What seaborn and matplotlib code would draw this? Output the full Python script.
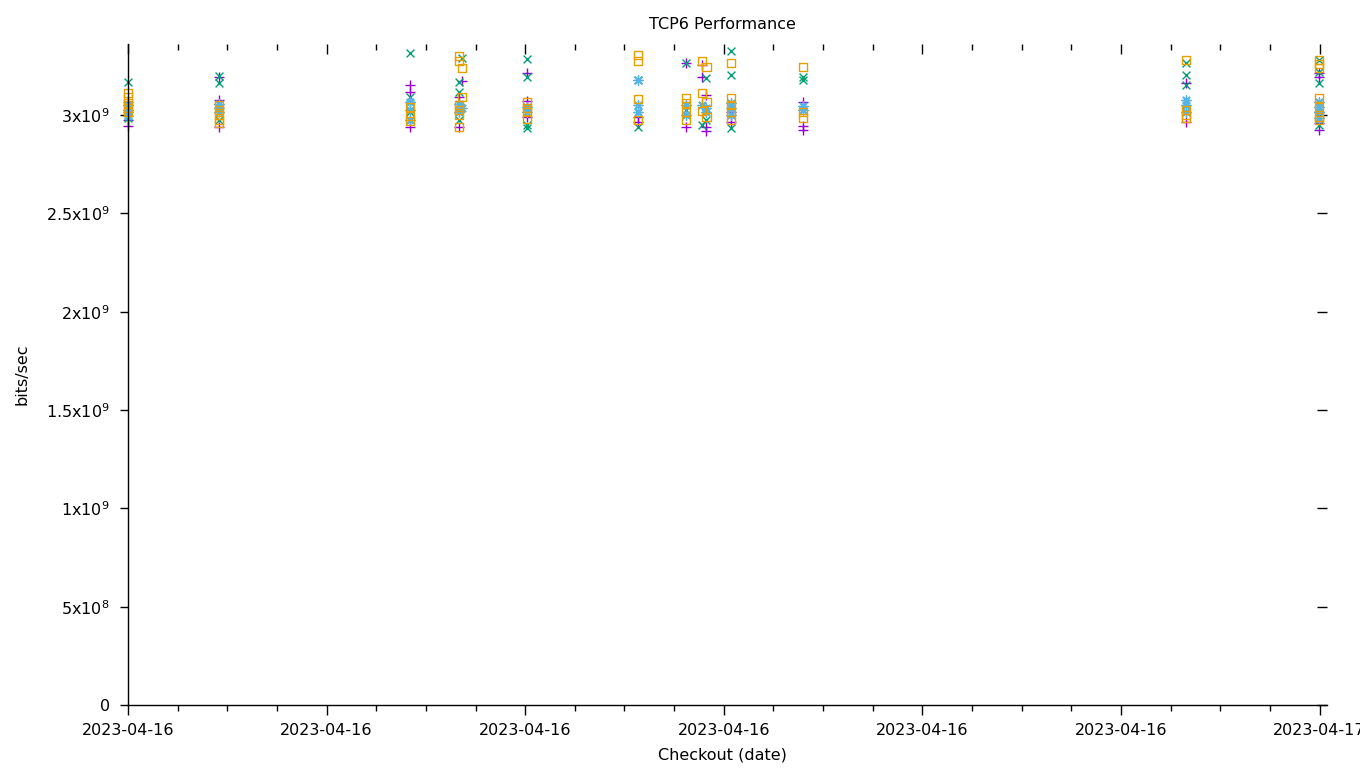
import numpy as np
import pandas as pd
import matplotlib
matplotlib.use("Agg")
import matplotlib.pyplot as plt
import matplotlib.dates as mdates
from matplotlib.markers import MarkerStyle
from matplotlib.ticker import FixedLocator, FixedFormatter, MultipleLocator
import seaborn as sns

# ---------------- data (bits/sec in units of 1e9) ----------------
DAY = "2023-04-16"

purple_times = ["00:00", "00:00", "00:00", "00:00",
                "01:50", "01:50", "01:50",
                "05:41", "05:41", "05:41",
                "06:40", "06:40", "06:44",
                "08:02", "08:02", "08:02",
                "10:16", "10:16",
                "11:14", "11:14",
                "11:34", "11:34",
                "11:39", "11:39", "11:39",
                "12:09", "12:09",
                "13:36", "13:36", "13:36",
                "21:19", "21:19",
                "23:59", "23:59", "23:59", "23:59", "23:59"]
purple_gbps = [3.066, 3.015, 2.975, 2.944,
               3.193, 3.076, 2.939,
               3.153, 3.117, 2.939,
               3.092, 2.939, 3.173,
               3.214, 3.071, 2.990,
               2.990, 2.964,
               3.264, 2.939,
               3.254, 3.193,
               3.102, 2.939, 2.919,
               3.015, 2.964,
               3.066, 2.944, 2.924,
               3.163, 2.964,
               3.214, 3.193, 3.015, 2.959, 2.924]

green_times = ["00:00", "00:00", "00:00",
               "01:50", "01:50", "01:50",
               "05:41", "05:41", "05:41",
               "06:44", "06:40", "06:40", "06:40",
               "08:02", "08:02", "08:02", "08:02",
               "10:16", "10:16",
               "11:14", "11:14",
               "11:34",
               "11:39", "11:39",
               "12:09", "12:09", "12:09",
               "13:36", "13:36",
               "21:19", "21:19", "21:19",
               "23:59", "23:59", "23:59", "23:59"]
green_gbps = [3.168, 3.000, 2.985,
              3.198, 3.163, 2.975,
              3.315, 3.092, 3.015,
              3.290, 3.168, 3.117, 2.975,
              3.285, 3.193, 2.949, 2.934,
              3.178, 2.939,
              3.264, 3.025,
              2.949,
              3.188, 2.975,
              3.325, 3.203, 2.934,
              3.193, 3.178,
              3.264, 3.203, 3.153,
              3.280, 3.219, 3.163, 2.949]

blue_times = ["00:00", "00:00", "00:00",
              "01:50", "01:50", "01:50",
              "05:41", "05:41", "05:41",
              "06:40", "06:40", "06:44",
              "08:02", "08:02",
              "10:16", "10:16", "10:16",
              "11:14", "11:14",
              "11:34",
              "11:39", "11:39",
              "12:09", "12:09", "12:09",
              "13:36", "13:36",
              "21:19", "21:19", "21:19",
              "23:59", "23:59", "23:59", "23:59"]
blue_gbps = [3.051, 3.025, 2.995,
             3.056, 3.036, 3.015,
             3.066, 3.025, 2.975,
             3.056, 3.015, 3.036,
             3.041, 3.015,
             3.178, 3.051, 3.015,
             3.051, 3.000,
             3.051,
             3.036, 3.015,
             3.061, 3.036, 3.000,
             3.046, 3.025,
             3.076, 3.051, 3.015,
             3.066, 3.041, 3.015, 2.985]

orange_times = ["00:00", "00:00", "00:00", "00:00", "00:00",
                "01:50", "01:50", "01:50", "01:50", "01:50",
                "05:41", "05:41", "05:41",
                "06:40", "06:40", "06:40", "06:40", "06:40", "06:40",
                "06:44", "06:44",
                "08:02", "08:02", "08:02", "08:02",
                "10:16", "10:16", "10:16", "10:16",
                "11:14", "11:14", "11:14", "11:14",
                "11:34", "11:34", "11:34",
                "11:39", "11:39", "11:39",
                "12:09", "12:09", "12:09", "12:09", "12:09",
                "13:36", "13:36", "13:36",
                "21:19", "21:19", "21:19", "21:19",
                "23:59", "23:59", "23:59", "23:59", "23:59", "23:59", "23:59"]
orange_gbps = [3.112, 3.092, 3.061, 3.036, 3.015,
               3.051, 3.025, 3.000, 2.975, 2.959,
               3.041, 2.995, 2.969,
               3.300, 3.275, 3.051, 3.025, 3.000, 2.939,
               3.239, 3.092,
               3.066, 3.036, 3.015, 2.980,
               3.305, 3.275, 3.081, 2.975,
               3.086, 3.061, 3.015, 2.975,
               3.275, 3.112, 3.020,
               3.244, 3.066, 2.990,
               3.264, 3.086, 3.051, 3.015, 2.975,
               3.244, 3.015, 2.985,
               3.280, 3.025, 3.000, 2.985,
               3.280, 3.259, 3.239, 3.086, 3.041, 2.990, 2.975]

ytick_values = [0, 5e8, 1e9, 1.5e9, 2e9, 2.5e9, 3e9]
ytick_labels = ["0", r"$5\mathrm{x}10^{8}$", r"$1\mathrm{x}10^{9}$",
                r"$1.5\mathrm{x}10^{9}$", r"$2\mathrm{x}10^{9}$",
                r"$2.5\mathrm{x}10^{9}$", r"$3\mathrm{x}10^{9}$"]

TITLE = "TCP6 Performance"
XLABEL = "Checkout (date)"
YLABEL = "bits/sec"

# ---------------- styling ----------------
sns.set_theme(style="white")
plt.rcParams["font.family"] = ["DejaVu Sans"]
plt.rcParams["mathtext.default"] = "regular"
plt.rcParams["mathtext.fontset"] = "dejavusans"
plt.rcParams["text.color"] = "black"
plt.rcParams["axes.labelcolor"] = "black"
plt.rcParams["xtick.color"] = "black"
plt.rcParams["ytick.color"] = "black"

FS = 11.5
fig = plt.figure(figsize=(13.6, 7.68), dpi=100)
L, R, B, T = 128 / 1360, 1327 / 1360, 1 - 705 / 768, 1 - 44 / 768
ax = fig.add_axes([L, B, R - L, T - B])
ax.set_facecolor("white")

series = [
    (purple_times, purple_gbps, "#9400d3", "+", 44),
    (green_times, green_gbps, "#009e73", "x", 32),
    (blue_times, blue_gbps, "#56b4e9", (8, 2, 0), 44),
    (orange_times, orange_gbps, "#e69f00", MarkerStyle("s", fillstyle="none"), 36),
]
for times, vals, color, marker, size in series:
    df = pd.DataFrame({
        "time": pd.to_datetime([DAY + " " + t for t in times]),
        "bps": np.asarray(vals) * 1e9,
    })
    sns.scatterplot(data=df, x="time", y="bps", marker=marker, color=color,
                    s=size, linewidth=1.0, legend=False, ax=ax, clip_on=False)

start = pd.Timestamp(DAY)
ax.set_xlim(start, start + pd.Timedelta(hours=24.15))
ax.set_ylim(0, 3.361e9)

ax.xaxis.set_major_locator(mdates.HourLocator(byhour=range(0, 24, 4)))
ax.xaxis.set_minor_locator(mdates.HourLocator())
ax.xaxis.set_major_formatter(mdates.DateFormatter("%Y-%m-%d"))
ax.yaxis.set_major_locator(FixedLocator(ytick_values))
ax.yaxis.set_major_formatter(FixedFormatter(ytick_labels))

for s in ["top", "right"]:
    ax.spines[s].set_visible(False)
for s in ["left", "bottom"]:
    ax.spines[s].set_color("black")
    ax.spines[s].set_linewidth(1.0)

ax.tick_params(axis="x", which="major", direction="out", length=7, width=1,
               color="black", labelcolor="black", labelsize=FS, pad=6, bottom=True)
ax.tick_params(axis="x", which="minor", direction="out", length=4, width=1,
               color="black", bottom=True)
ax.tick_params(axis="y", which="major", direction="out", length=6, width=1,
               color="black", labelcolor="black", labelsize=FS, pad=7, left=True)

# mirrored inward ticks on top and right (no border line)
top = ax.secondary_xaxis("top")
top.xaxis.set_major_locator(MultipleLocator(4 / 24))
top.xaxis.set_minor_locator(MultipleLocator(1 / 24))
top.tick_params(axis="x", which="major", direction="in", length=7, width=1,
                color="black", labeltop=False)
top.tick_params(axis="x", which="minor", direction="in", length=4, width=1,
                color="black")
top.spines["top"].set_visible(False)

right = ax.secondary_yaxis("right")
right.yaxis.set_major_locator(FixedLocator(ytick_values))
right.tick_params(axis="y", which="major", direction="in", length=7, width=1,
                  color="black", labelright=False)
right.spines["right"].set_visible(False)

ax.set_title(TITLE, fontsize=FS, color="black", pad=11, x=0.496)
ax.set_xlabel(XLABEL, fontsize=FS, color="black")
ax.set_ylabel(YLABEL, fontsize=FS, color="black")
ax.xaxis.set_label_coords(0.496, -0.064)
ax.yaxis.set_label_coords(-0.082, 0.5)
ax.grid(False)

fig.savefig("out.png", dpi=100, facecolor="white")
